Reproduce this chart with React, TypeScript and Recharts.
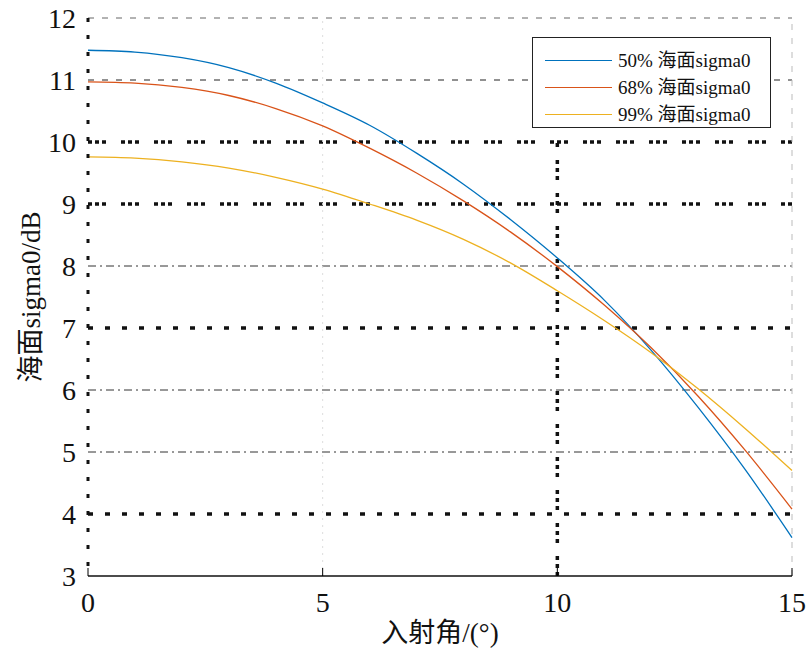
import { Line, LineChart, ReferenceLine, XAxis, YAxis } from 'recharts'

const angles = [0, 1, 2, 3, 4, 5, 6, 7, 8, 9, 10, 11, 12, 13, 14, 15]
const sigma50 = [11.48, 11.45, 11.36, 11.2, 10.95, 10.63, 10.27, 9.82, 9.32, 8.75, 8.13, 7.45, 6.64, 5.72, 4.72, 3.62]
const sigma68 = [10.97, 10.95, 10.88, 10.75, 10.54, 10.26, 9.9, 9.5, 9.05, 8.55, 7.99, 7.37, 6.68, 5.9, 5.03, 4.08]
const sigma99 = [9.76, 9.74, 9.68, 9.58, 9.43, 9.24, 9.0, 8.74, 8.43, 8.05, 7.6, 7.12, 6.6, 6.02, 5.38, 4.7]

const xTicks = [0, 5, 10, 15]
const yTicks = [3, 4, 5, 6, 7, 8, 9, 10, 11, 12]
const seriesNames = ['50% 海面sigma0', '68% 海面sigma0', '99% 海面sigma0']

const data = angles.map((x, i) => ({ x, s50: sigma50[i], s68: sigma68[i], s99: sigma99[i] }))

const FONT = '"Liberation Serif", "Times New Roman", "Noto Sans CJK SC", serif'
const COLORS = ['#0072BD', '#D95319', '#EDB120']

// grid line look per y value, mimics the mixed line styles of the figure
function gridStyle(v: number) {
  if (v === 12 || v === 11) return { stroke: v === 12 ? '#666' : '#222', strokeWidth: 1, strokeDasharray: '6 8' }
  if (v === 10 || v === 9) return { stroke: '#111', strokeWidth: 3.5, strokeDasharray: '4 3 4 3 4 15' }
  if (v === 7 || v === 4) return { stroke: '#111', strokeWidth: 3.5, strokeDasharray: '5 12' }
  return { stroke: '#333', strokeWidth: 1, strokeDasharray: '8 4 2 4' }
}

function XTick({ x, y, payload }: any) {
  return (
    <g>
      <line x1={x} x2={x} y1={y - 14} y2={y - 22} stroke="#000" strokeWidth={1} />
      <text x={x} y={y} dy={22} textAnchor="middle" fontFamily={FONT} fontSize={28} fill="#111">
        {payload.value}
      </text>
    </g>
  )
}

function YTick({ x, y, payload }: any) {
  return (
    <text x={x} y={y} dy={10} textAnchor="end" fontFamily={FONT} fontSize={28} fill="#111">
      {payload.value}
    </text>
  )
}

function LegendBox() {
  return (
    <div
      style={{
        position: 'absolute',
        left: 532,
        top: 37,
        width: 237,
        height: 89,
        border: '1px solid #222',
        background: '#fff',
      }}
    >
      {seriesNames.map((n, i) => (
        <div key={n} style={{ display: 'flex', alignItems: 'center', height: 27, marginTop: i === 0 ? 9 : 0 }}>
          <div style={{ width: 67, height: 0, borderTop: `1.3px solid ${COLORS[i]}`, marginLeft: 12, marginRight: 6 }} />
          <span style={{ fontFamily: FONT, fontSize: 19, color: '#111', lineHeight: '27px' }}>{n}</span>
        </div>
      ))}
    </div>
  )
}

export default function App() {
  return (
    <div style={{ position: 'absolute', left: 0, top: 0, width: 808, height: 658, background: '#fff' }}>
      <LineChart width={808} height={658} data={data} margin={{ top: 18, right: 16, bottom: 22, left: 28 }}>
        <XAxis
          dataKey="x"
          type="number"
          domain={[0, 15]}
          ticks={xTicks}
          tick={<XTick />}
          tickSize={0}
          tickMargin={14}
          tickLine={false}
          axisLine={{ stroke: '#111', strokeWidth: 1.5 }}
          height={60}
          label={({ viewBox }: any) => (
            <text x={viewBox.x + viewBox.width / 2} y={viewBox.y + 66} textAnchor="middle" fontFamily={FONT} fontSize={27} fill="#111">
              入射角/(°)
            </text>
          )}
        />
        <YAxis
          type="number"
          domain={[3, 12]}
          ticks={yTicks}
          tick={<YTick />}
          tickLine={false}
          tickSize={0}
          tickMargin={12}
          width={60}
          axisLine={{ stroke: '#111', strokeWidth: 3, strokeDasharray: '4 13' }}
          label={({ viewBox }: any) => (
            <text
              x={viewBox.x + 6}
              y={viewBox.y + viewBox.height / 2}
              transform={`rotate(-90, ${viewBox.x + 6}, ${viewBox.y + viewBox.height / 2})`}
              textAnchor="middle"
              dominantBaseline="middle"
              fontFamily={FONT}
              fontSize={27}
              fill="#111"
            >
              海面sigma0/dB
            </text>
          )}
        />
        {yTicks.filter(v => v > 3).map(v => (
          <ReferenceLine key={v} y={v} {...gridStyle(v)} />
        ))}
        <ReferenceLine x={5} stroke="#ddd" strokeWidth={1} strokeDasharray="2 5" />
        <ReferenceLine
          segment={[{ x: 10, y: 3 }, { x: 10, y: 10 }]}
          stroke="#111"
          strokeWidth={3.5}
          strokeDasharray="4 4 4 4 4 13"
        />
        <ReferenceLine x={15} stroke="#bbb" strokeWidth={1} strokeDasharray="6 8" />
        <Line dataKey="s50" name={seriesNames[0]} stroke={COLORS[0]} strokeWidth={1.3} dot={false} type="monotone" isAnimationActive={false} />
        <Line dataKey="s68" name={seriesNames[1]} stroke={COLORS[1]} strokeWidth={1.3} dot={false} type="monotone" isAnimationActive={false} />
        <Line dataKey="s99" name={seriesNames[2]} stroke={COLORS[2]} strokeWidth={1.3} dot={false} type="monotone" isAnimationActive={false} />
      </LineChart>
      <LegendBox />
    </div>
  )
}
